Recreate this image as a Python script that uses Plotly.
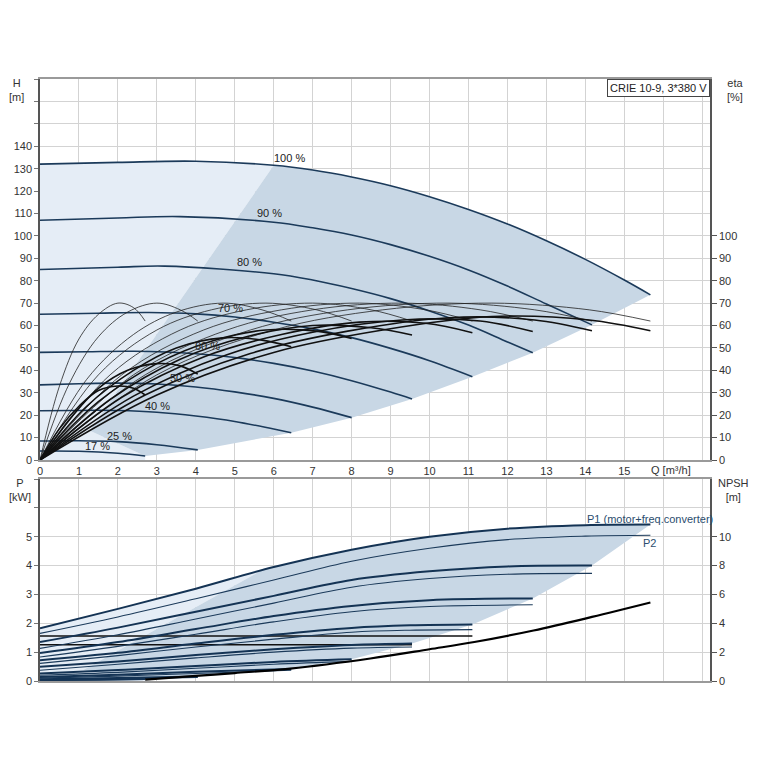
import plotly.graph_objects as go

# ---------------- DATA ----------------
speeds = ["100 %", "90 %", "80 %", "70 %", "60 %", "50 %", "40 %", "25 %", "17 %"]

# Head curves H [m] vs Q [m3/h]
head_q = {
    "100 %": [0, 2, 4, 6, 7, 8, 9, 10, 11, 12, 13, 14, 15, 15.67],
    "90 %": [0, 2, 3.6, 6, 7, 8, 9, 10, 11, 12, 13, 14.17],
    "80 %": [0, 2, 3.2, 6, 7, 8, 9, 10, 11, 12, 12.65],
    "70 %": [0, 1.5, 2.8, 4, 5, 6, 7, 8, 9, 10, 11.1],
    "60 %": [0, 1.2, 2.4, 4, 5, 6, 7, 8, 9, 9.55],
    "50 %": [0, 1, 2, 3, 4, 5, 6, 7, 8],
    "40 %": [0, 0.8, 1.5, 2, 3, 4, 5, 6, 6.45],
    "25 %": [0, 1, 2, 3, 4.05],
    "17 %": [0, 1, 2, 2.7],
}
head_h = {
    "100 %": [132, 132.8, 133.3, 131.5, 129.4, 126.3, 122.4, 117.5, 111.8, 105.3, 97.8, 89.5, 80.3, 73.7],
    "90 %": [107, 108, 108.6, 106.1, 103.6, 100.4, 96.1, 90.9, 84.8, 77.6, 69.6, 60.3],
    "80 %": [85, 86, 86.5, 83.1, 80.3, 76.5, 72, 66.5, 60.2, 52.7, 47.9],
    "70 %": [65, 65.5, 65.8, 65.2, 63.8, 61.5, 58.5, 54.6, 49.8, 44.3, 37.2],
    "60 %": [48, 48.3, 48.5, 47.4, 45.7, 43.1, 39.7, 35.4, 30.3, 27.2],
    "50 %": [33.5, 34, 34.3, 33.9, 32.6, 30.4, 27.5, 23.6, 18.9],
    "40 %": [22, 22.1, 22.2, 22.1, 21.3, 19.6, 17.2, 13.8, 12.2],
    "25 %": [8.5, 8.6, 8.2, 6.8, 4.5],
    "17 %": [4, 3.9, 3, 1.8],
}
# label positions for the speed labels
label_q = [6.4, 5.9, 5.38, 4.88, 4.3, 3.67, 3.02, 2.04, 1.48]
label_h = [134.7, 110, 88.3, 68, 51, 36.5, 24.3, 10.9, 6.4]

# Pump efficiency (thin) and total efficiency (thick), eta [%]
eta_q = {
    "100 %": [0, 3, 6, 8.8, 11.6, 14.1, 15.67],
    "90 %": [0, 2.7, 5.4, 7.9, 10.5, 12.7, 14.17],
    "80 %": [0, 2.4, 4.8, 7, 9.3, 11.3, 12.65],
    "70 %": [0, 2.1, 4.2, 6.2, 8.2, 9.9, 11.1],
    "60 %": [0, 1.8, 3.6, 5.3, 7, 8.5, 9.55],
    "50 %": [0, 1.5, 3, 4.4, 5.8, 7.1, 8],
    "40 %": [0, 1.2, 2.4, 3.5, 4.7, 5.7, 6.45],
    "25 %": [0, 0.75, 1.5, 2.25, 3, 3.6, 4.05],
    "17 %": [0, 0.5, 1, 1.5, 2, 2.4, 2.7],
}
eta_pump = {
    "100 %": [0, 38, 58, 67, 70, 67, 62],
    "90 %": [0, 38, 58, 67, 70, 67, 62],
    "80 %": [0, 38, 58, 67, 70, 67, 62],
    "70 %": [0, 38, 58, 67, 70, 67, 62],
    "60 %": [0, 38, 58, 67, 70, 67, 62],
    "50 %": [0, 38, 58, 67, 70, 67, 62],
    "40 %": [0, 36, 56, 66, 70, 67, 62],
    "25 %": [0, 34, 55, 66, 70, 67, 62],
    "17 %": [0, 33, 54, 65, 70, 68, 62],
}
eta_total = {
    "100 %": [0, 29, 48, 58, 64, 62.5, 57.7],
    "90 %": [0, 29, 47.5, 57.5, 63.5, 62.5, 57.7],
    "80 %": [0, 28.5, 47, 57, 62.5, 62, 57.3],
    "70 %": [0, 28, 46, 56, 61.5, 61, 56.8],
    "60 %": [0, 27, 45, 55, 60, 59, 55.8],
    "50 %": [0, 26, 43, 53, 58, 57.5, 54.2],
    "40 %": [0, 24, 40, 50, 54.5, 53.5, 50.5],
    "25 %": [0, 18, 32, 40, 43, 42, 38.3],
    "17 %": [0, 14, 24, 31, 33, 32, 29],
}

# Power curves P1 (motor+freq.converter) and P2 [kW]
power_q = {
    "100 %": [0, 2, 4, 6, 8, 10, 12, 14, 15.67],
    "90 %": [0, 2, 4, 6, 8, 10, 12, 14.17],
    "80 %": [0, 2, 4, 6, 8, 10, 12.65],
    "70 %": [0, 2, 4, 6, 8, 9.5, 11.1],
    "60 %": [0, 2, 4, 6, 8, 9.55],
    "50 %": [0, 2, 4, 6, 8],
    "40 %": [0, 2, 4, 6.45],
    "25 %": [0, 2, 4.05],
    "17 %": [0, 1.5, 2.7],
}
p1 = {
    "100 %": [1.83, 2.5, 3.2, 3.95, 4.55, 5.0, 5.28, 5.4, 5.42],
    "90 %": [1.35, 1.85, 2.4, 2.95, 3.5, 3.8, 3.97, 4.0],
    "80 %": [0.97, 1.35, 1.8, 2.25, 2.6, 2.8, 2.86],
    "70 %": [0.72, 0.98, 1.3, 1.6, 1.84, 1.93, 1.96],
    "60 %": [0.49, 0.68, 0.9, 1.1, 1.25, 1.3],
    "50 %": [0.26, 0.38, 0.52, 0.66, 0.75],
    "40 %": [0.14, 0.22, 0.32, 0.42],
    "25 %": [0.06, 0.1, 0.16],
    "17 %": [0.03, 0.05, 0.07],
}
p2 = {
    "100 %": [1.65, 2.22, 2.85, 3.5, 4.15, 4.6, 4.9, 5.02, 5.05],
    "90 %": [1.13, 1.6, 2.15, 2.7, 3.25, 3.55, 3.7, 3.73],
    "80 %": [0.83, 1.2, 1.62, 2.05, 2.4, 2.58, 2.64],
    "70 %": [0.61, 0.88, 1.18, 1.45, 1.69, 1.76, 1.78],
    "60 %": [0.37, 0.58, 0.8, 1.0, 1.14, 1.18],
    "50 %": [0.2, 0.3, 0.44, 0.58, 0.68],
    "40 %": [0.1, 0.17, 0.26, 0.37],
    "25 %": [0.04, 0.07, 0.12],
    "17 %": [0.02, 0.03, 0.05],
}
# flat black lines in the power panel
flat_q = [[0, 11.1], [0, 9.55]]
flat_p = [[1.56, 1.56], [1.26, 1.26]]

# NPSH [m]
npsh_q = [2.7, 4, 5, 6.42, 8.48, 10, 11.15, 12.67, 14.17, 15.67]
npsh_v = [0.1, 0.35, 0.55, 0.86, 1.56, 2.2, 2.7, 3.5, 4.44, 5.44]

# region boundaries
head_split = [[6, 1.28, 2.7], [131.5, 13, 1.8]]     # light/dark boundary (Q, H)
power_split = [[5.8, 1.1, 2.7], [3.92, 0.37, 0.07]]  # light/dark boundary (Q, P)

x_ticks = list(range(0, 18))
h_ticks = list(range(0, 180, 10))
eta_ticks = list(range(0, 110, 10))
p_ticks = list(range(0, 8))
npsh_ticks = list(range(0, 12, 2))

# ---------------- FIGURE ----------------
NAVY = "#1b3a5a"
LIGHT = "#e5edf6"
DARK = "#c8d7e5"
GRID = "#d3d3d3"
FONT = "Liberation Sans, Arial, sans-serif"

fig = go.Figure()

# --- top panel shading
q100, h100 = head_q["100 %"], head_h["100 %"]
n6 = q100.index(6)
lx = [0, 0] + q100[:n6 + 1] + head_split[0][1:] + [2.7]
ly = [0, h100[0]] + h100[:n6 + 1] + head_split[1][1:] + [0]
fig.add_trace(go.Scatter(x=lx, y=ly, fill="toself", fillcolor=LIGHT, mode="lines",
                         line=dict(width=0), hoverinfo="skip", xaxis="x", yaxis="y"))
dx = q100[n6:] + [head_q[s][-1] for s in speeds[1:]] + [head_split[0][1]]
dy = h100[n6:] + [head_h[s][-1] for s in speeds[1:]] + [head_split[1][1]]
fig.add_trace(go.Scatter(x=dx, y=dy, fill="toself", fillcolor=DARK, mode="lines",
                         line=dict(width=0), hoverinfo="skip", xaxis="x", yaxis="y"))

# --- bottom panel shading
pq100, pp100 = power_q["100 %"], p1["100 %"]
lx2 = [0] + pq100[:3] + [power_split[0][0]] + power_split[0][1:] + [2.7, 0]
ly2 = [0] + pp100[:3] + [power_split[1][0]] + power_split[1][1:] + [0, 0]
fig.add_trace(go.Scatter(x=lx2, y=ly2, fill="toself", fillcolor=LIGHT, mode="lines",
                         line=dict(width=0), hoverinfo="skip", xaxis="x2", yaxis="y3"))
dx2 = [power_split[0][0]] + pq100[3:] + [power_q[s][-1] for s in speeds[1:]] + [power_split[0][1]]
dy2 = [power_split[1][0]] + pp100[3:] + [p1[s][-1] for s in speeds[1:]] + [power_split[1][1]]
fig.add_trace(go.Scatter(x=dx2, y=dy2, fill="toself", fillcolor=DARK, mode="lines",
                         line=dict(width=0), hoverinfo="skip", xaxis="x2", yaxis="y3"))

# --- efficiency curves
for s in speeds:
    fig.add_trace(go.Scatter(x=eta_q[s], y=eta_pump[s], mode="lines", line=dict(color="#222", width=0.8, shape="spline"),
                             xaxis="x", yaxis="y2", hoverinfo="skip"))
for s in speeds:
    fig.add_trace(go.Scatter(x=eta_q[s], y=eta_total[s], mode="lines", line=dict(color="#111", width=1.6, shape="spline"),
                             xaxis="x", yaxis="y2", hoverinfo="skip"))

# --- head curves
for s in speeds:
    fig.add_trace(go.Scatter(x=head_q[s], y=head_h[s], mode="lines", line=dict(color=NAVY, width=1.6, shape="spline"),
                             xaxis="x", yaxis="y", name=s, hoverinfo="skip"))

# --- power curves
for fq, fp in zip(flat_q, flat_p):
    fig.add_trace(go.Scatter(x=fq, y=fp, mode="lines", line=dict(color="#111", width=1.5),
                             xaxis="x2", yaxis="y3", hoverinfo="skip"))
for s in speeds:
    fig.add_trace(go.Scatter(x=power_q[s], y=p2[s], mode="lines", line=dict(color=NAVY, width=1.1, shape="spline"),
                             xaxis="x2", yaxis="y3", hoverinfo="skip"))
    fig.add_trace(go.Scatter(x=power_q[s], y=p1[s], mode="lines", line=dict(color="#143354", width=2, shape="spline"),
                             xaxis="x2", yaxis="y3", hoverinfo="skip"))

fig.add_trace(go.Scatter(x=npsh_q, y=npsh_v, mode="lines", line=dict(color="#000", width=2.2, shape="spline"),
                         xaxis="x2", yaxis="y4", hoverinfo="skip"))

# ---------------- LAYOUT ----------------
# page body adds an 8 px offset, so the figure is sized/placed to compensate
OFF = 8
FW = FH = 757 - OFF
ann = []
for s, lq, lh in zip(speeds, label_q, label_h):
    ann.append(dict(x=lq, y=lh, xref="x", yref="y", text=s, showarrow=False,
                    font=dict(size=11, color="#222", family=FONT)))

def pt(text, xp, yp, anchor="center"):
    return dict(x=xp, y=yp, xref="paper", yref="paper", text=text, showarrow=False,
                xanchor=anchor, yanchor="middle", align="center",
                font=dict(size=11, color="#333", family=FONT))

L, R = 40 - OFF, 710 - OFF
T, B = 79 - OFF, 681 - OFF
W = R - L
def px(xv):
    return (xv - OFF - L) / W
def py(yv):
    return (B - (yv - OFF)) / (B - T)

ann += [
    pt("H<br>[m]", px(16), py(90)),
    pt("eta<br>[%]", px(735), py(90)),
    pt("P<br>[kW]", px(20), py(490)),
    pt("NPSH<br>[m]", px(733), py(490)),
    pt("Q [m³/h]", px(671), py(470)),
    dict(x=1, y=1, xref="paper", yref="paper", text="CRIE 10-9, 3*380 V", showarrow=False,
         xanchor="right", yanchor="top", bordercolor="#444", borderwidth=1, borderpad=2,
         bgcolor="white", font=dict(size=11, color="#222", family=FONT)),
    dict(x=15.65, y=5.6, xref="x2", yref="y3", text="P1 (motor+freq.converter)", showarrow=False,
         font=dict(size=11, color="#2b4d6e", family=FONT)),
    dict(x=15.65, y=4.79, xref="x2", yref="y3", text="P2", showarrow=False,
         font=dict(size=11, color="#2b4d6e", family=FONT)),
]

top_dom = [py(460), 1]
bot_dom = [0, py(479)]

axis_common = dict(gridcolor=GRID, gridwidth=1.3, zeroline=False, automargin=False,
                   tickfont=dict(size=11, color="#333", family=FONT))
right_common = dict(showgrid=False, zeroline=False, automargin=False,
                    showline=True, linecolor="#555", linewidth=1.5,
                    ticks="outside", ticklen=5, tickcolor="#555",
                    tickfont=dict(size=11, color="#333", family=FONT))

fig.update_layout(
    width=FW, height=FH,
    margin=dict(l=L, r=FW - R, t=T, b=FH - B, autoexpand=False),
    paper_bgcolor="white", plot_bgcolor="white",
    showlegend=False,
    annotations=ann,
    xaxis=dict(domain=[0, 1], range=[0, 17.2], anchor="y",
               tickvals=x_ticks, ticktext=[str(v) if v <= 15 else "" for v in x_ticks],
               showline=True, linecolor="#9a9a9a", linewidth=2, mirror=True,
               ticks="", **axis_common),
    yaxis=dict(domain=top_dom, range=[0, 170], anchor="x",
               tickvals=h_ticks, ticktext=[str(v) if v <= 140 else "" for v in h_ticks],
               showline=True, linecolor="#555", linewidth=1.5,
               ticks="outside", ticklen=4, tickcolor="#777", **axis_common),
    yaxis2=dict(range=[0, 170], overlaying="y", side="right", anchor="x",
                tickvals=eta_ticks, **right_common),
    xaxis2=dict(domain=[0, 1], range=[0, 17.2], anchor="y3", matches="x",
                tickvals=x_ticks, showticklabels=False,
                showline=True, linecolor="#9a9a9a", linewidth=2, mirror=True,
                ticks="", **axis_common),
    yaxis3=dict(domain=bot_dom, range=[0, 7], anchor="x2",
                tickvals=p_ticks, ticktext=[str(v) if v <= 5 else "" for v in p_ticks],
                showline=True, linecolor="#555", linewidth=1.5,
                ticks="outside", ticklen=4, tickcolor="#777", **axis_common),
    yaxis4=dict(range=[0, 14], overlaying="y3", side="right", anchor="x2",
                tickvals=npsh_ticks, **right_common),
)

fig.write_html("out.html")
